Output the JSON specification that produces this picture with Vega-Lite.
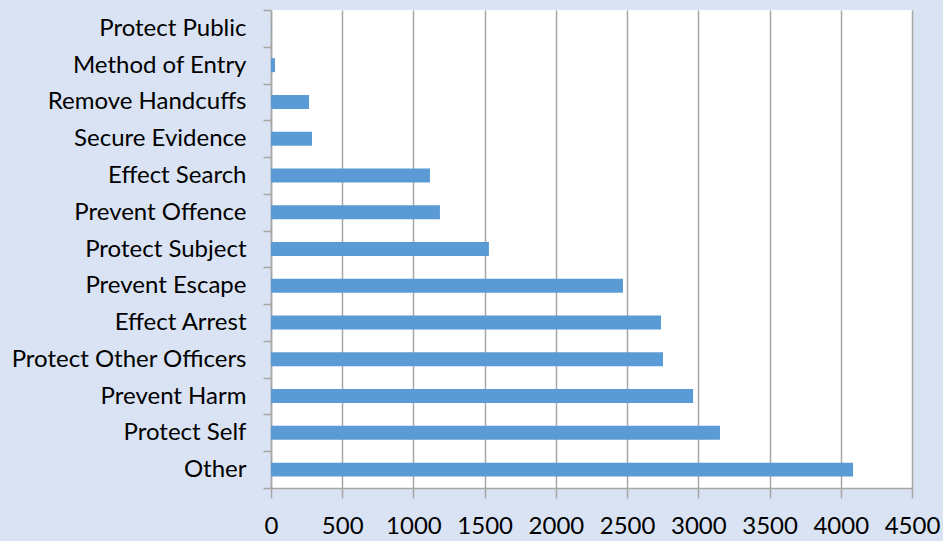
{
  "$schema": "https://vega.github.io/schema/vega-lite/v6.json",
  "width": 641,
  "height": 478,
  "autosize": {"type": "none"},
  "padding": {"left": 271, "top": 10, "right": 31, "bottom": 53},
  "background": "#dae3f3",
  "config": {
    "view": {"fill": "white", "stroke": null},
    "font": "Lato"
  },
  "data": {
    "values": [
      {"reason": "Protect Public", "count": 1},
      {"reason": "Method of Entry", "count": 28},
      {"reason": "Remove Handcuffs", "count": 267},
      {"reason": "Secure Evidence", "count": 288},
      {"reason": "Effect Search", "count": 1116},
      {"reason": "Prevent Offence", "count": 1186},
      {"reason": "Protect Subject", "count": 1530},
      {"reason": "Prevent Escape", "count": 2471},
      {"reason": "Effect Arrest", "count": 2738},
      {"reason": "Protect Other Officers", "count": 2752},
      {"reason": "Prevent Harm", "count": 2963},
      {"reason": "Protect Self", "count": 3152},
      {"reason": "Other", "count": 4086}
    ]
  },
  "mark": {"type": "bar", "color": "#5b9bd5", "height": {"band": 0.38}},
  "encoding": {
    "y": {
      "field": "reason",
      "type": "nominal",
      "sort": null,
      "title": null,
      "scale": {"paddingInner": 0, "paddingOuter": 0},
      "axis": {
        "domainColor": "#a6a6a6",
        "domainWidth": 1.5,
        "tickColor": "#a6a6a6",
        "tickWidth": 1.5,
        "tickSize": 8,
        "tickBand": "extent",
        "labelPadding": 17,
        "labelFontSize": 24,
        "labelLimit": 0,
        "labelColor": "#000000",
        "labelFont": "Lato"
      }
    },
    "x": {
      "field": "count",
      "type": "quantitative",
      "title": null,
      "scale": {"domain": [0, 4500], "nice": false},
      "axis": {
        "values": [0, 500, 1000, 1500, 2000, 2500, 3000, 3500, 4000, 4500],
        "format": "d",
        "grid": true,
        "gridColor": "#a6a6a6",
        "gridWidth": 1.5,
        "domainColor": "#a6a6a6",
        "domainWidth": 1.5,
        "tickColor": "#a6a6a6",
        "tickWidth": 1.5,
        "tickSize": 10,
        "labelPadding": 16,
        "labelFontSize": 24,
        "labelColor": "#000000",
        "labelFont": "Lato",
        "labelFlush": false
      }
    }
  }
}
